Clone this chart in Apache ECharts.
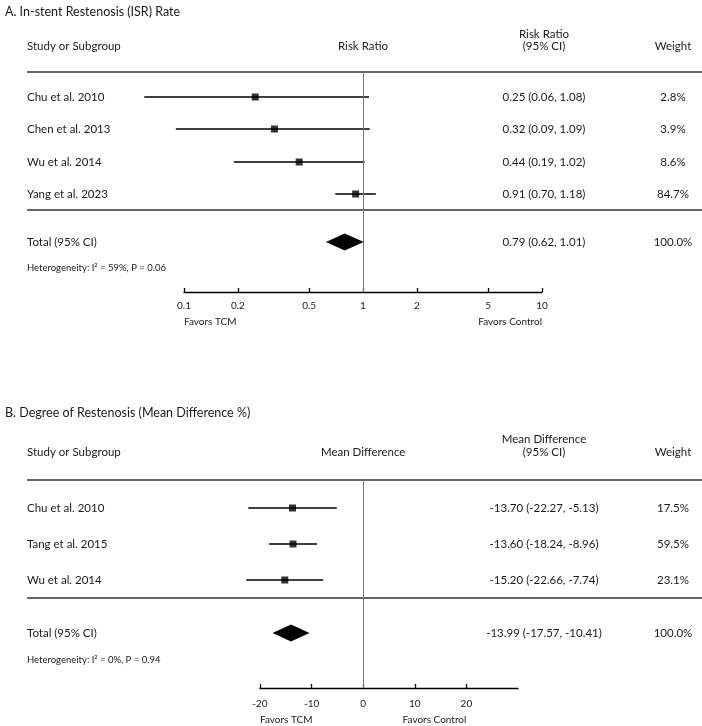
<!DOCTYPE html>
<html>
<head>
<meta charset="utf-8">
<script src="https://cdn.jsdelivr.net/npm/echarts@6/dist/echarts.min.js"></script>
<style>
  html, body { margin: 0; padding: 0; background: #fff; }
  #chart { width: 702px; height: 726px; }
</style>
</head>
<body>
<div id="chart"></div>
<script>
// Panel A: in-stent restenosis rate, risk ratio (log scale)
const studiesA = ['Chu et al. 2010', 'Chen et al. 2013', 'Wu et al. 2014', 'Yang et al. 2023'];
const estA = [0.25, 0.32, 0.44, 0.91];
const lowA = [0.06, 0.09, 0.19, 0.70];
const highA = [1.08, 1.09, 1.02, 1.18];
const weightA = ['2.8%', '3.9%', '8.6%', '84.7%'];
const totalA = [0.79, 0.62, 1.01];
const hetA = 'Heterogeneity: I² = 59%, P = 0.06';
const ticksA = [0.1, 0.2, 0.5, 1, 2, 5, 10];

// Panel B: degree of restenosis, mean difference (%)
const studiesB = ['Chu et al. 2010', 'Tang et al. 2015', 'Wu et al. 2014'];
const estB = [-13.70, -13.60, -15.20];
const lowB = [-22.27, -18.24, -22.66];
const highB = [-5.13, -8.96, -7.74];
const weightB = ['17.5%', '59.5%', '23.1%'];
const totalB = [-13.99, -17.57, -10.41];
const hetB = 'Heterogeneity: I² = 0%, P = 0.94';
const ticksB = [-20, -10, 0, 10, 20];

// row slots (y axis units, inverse) - layout only
const rowsA = [25, 57, 90, 122];
const rowsB = [28, 64, 100];
const layoutA = { max: 220, header: -26, header1: -38, sep: 138, total: 170, het: 196, favors: 30 };
const layoutB = { max: 208, header: -28, header1: -41, sep: 118, total: 153, het: 180, favors: 32 };

const FONT = 'Lato, sans-serif';
const INK = '#1a1a1a';
const chart = echarts.init(document.getElementById('chart'));

function whiskerItem(params, api) {
  const a = api.coord([api.value(0), api.value(2)]);
  const b = api.coord([api.value(1), api.value(2)]);
  return {
    type: 'line',
    shape: { x1: a[0], y1: a[1], x2: b[0], y2: b[1] },
    style: { stroke: '#000', lineWidth: 1.3 }
  };
}

function diamondItem(params, api) {
  const y = api.value(3);
  const c = api.coord([api.value(0), y]);
  const l = api.coord([api.value(1), y]);
  const r = api.coord([api.value(2), y]);
  const h = 8.5;
  return {
    type: 'polygon',
    shape: { points: [[l[0], c[1]], [c[0], c[1] - h], [r[0], c[1]], [c[0], c[1] + h]] },
    style: { fill: '#000' }
  };
}

function xAxisStyle(margin) {
  return {
    axisLine: { show: true, onZero: false, lineStyle: { color: '#000', width: 1.3 } },
    axisTick: { show: true, inside: true, length: 4, lineStyle: { color: '#000', width: 1.3 } },
    axisLabel: { color: INK, fontFamily: FONT, fontSize: 10, margin: margin },
    splitLine: { show: false }
  };
}

const refLine = (x) => ({
  silent: true,
  symbol: 'none',
  label: { show: false },
  lineStyle: { color: '#777', width: 1, type: 'solid' },
  data: [{ xAxis: x }]
});

chart.setOption({
  animation: false,
  backgroundColor: '#fff',
  title: [
    { text: 'A. In-stent Restenosis (ISR) Rate', left: 0, top: 0, textStyle: { fontFamily: FONT, fontSize: 12.5, fontWeight: 'normal', color: INK } },
    { text: 'B. Degree of Restenosis (Mean Difference %)', left: 0, top: 401, textStyle: { fontFamily: FONT, fontSize: 12.5, fontWeight: 'normal', color: INK } }
  ],
  grid: [
    { left: 184, width: 358, top: 72, height: 220 },
    { left: 260, width: 258, top: 480, height: 208 }
  ],
  xAxis: [
    Object.assign(xAxisStyle(9), {
      gridIndex: 0, type: 'log', logBase: 10, min: 0.1, max: 10
    }),
    Object.assign(xAxisStyle(11), {
      gridIndex: 1, type: 'value', min: -20, max: 30, interval: 10
    })
  ],
  yAxis: [
    { gridIndex: 0, type: 'value', inverse: true, min: 0, max: layoutA.max, show: false },
    { gridIndex: 1, type: 'value', inverse: true, min: 0, max: layoutB.max, show: false }
  ],
  series: [
    {
      type: 'custom', xAxisIndex: 0, yAxisIndex: 0,
      renderItem: whiskerItem,
      encode: { x: [0, 1], y: 2 },
      data: studiesA.map((s, i) => [lowA[i], highA[i], rowsA[i]]),
      markLine: refLine(1)
    },
    {
      type: 'scatter', xAxisIndex: 0, yAxisIndex: 0,
      symbol: 'rect', symbolSize: 7, itemStyle: { color: '#000' },
      data: studiesA.map((s, i) => [estA[i], rowsA[i]])
    },
    {
      type: 'custom', xAxisIndex: 0, yAxisIndex: 0,
      renderItem: diamondItem,
      encode: { x: [0, 1, 2], y: 3 },
      data: [[totalA[0], totalA[1], totalA[2], layoutA.total]]
    },
    {
      type: 'custom', xAxisIndex: 1, yAxisIndex: 1,
      renderItem: whiskerItem,
      encode: { x: [0, 1], y: 2 },
      data: studiesB.map((s, i) => [lowB[i], highB[i], rowsB[i]]),
      markLine: refLine(0)
    },
    {
      type: 'scatter', xAxisIndex: 1, yAxisIndex: 1,
      symbol: 'rect', symbolSize: 7, itemStyle: { color: '#000' },
      data: studiesB.map((s, i) => [estB[i], rowsB[i]])
    },
    {
      type: 'custom', xAxisIndex: 1, yAxisIndex: 1,
      renderItem: diamondItem,
      encode: { x: [0, 1, 2], y: 3 },
      data: [[totalB[0], totalB[1], totalB[2], layoutB.total]]
    }
  ]
});

// custom tick positions
chart.setOption({
  xAxis: [
    { axisTick: { customValues: ticksA }, axisLabel: { customValues: ticksA, formatter: (v) => String(+v.toPrecision(3)) } },
    { axisTick: { customValues: ticksB }, axisLabel: { customValues: ticksB } }
  ]
});

// table text and rules
const NAME_X = 27, CI_X = 544, W_X = 673, RULE_END = 702;
const fmt = (n) => n.toFixed(2);

function txt(text, x, y, align, size) {
  return {
    type: 'text', silent: true,
    style: { text, x, y, align: align || 'left', verticalAlign: 'middle', font: (size || 11.5) + 'px ' + FONT, fill: INK }
  };
}
function rule(y) {
  return { type: 'line', silent: true, shape: { x1: NAME_X, y1: y, x2: RULE_END, y2: y }, style: { stroke: '#333', lineWidth: 1.6 } };
}

function panelGraphics(grid, lay, rows, studies, est, low, high, weight, total, het, midHeader, ciHeader, refX, ticks) {
  const py = (v) => chart.convertToPixel({ gridIndex: grid }, [refX, v])[1];
  const px = (v) => chart.convertToPixel({ gridIndex: grid }, [v, 0])[0];
  const out = [];
  out.push(txt('Study or Subgroup', NAME_X, py(lay.header)));
  out.push(txt(midHeader, px(refX), py(lay.header), 'center'));
  out.push(txt(ciHeader, CI_X, py(lay.header1), 'center'));
  out.push(txt('(95% CI)', CI_X, py(lay.header), 'center'));
  out.push(txt('Weight', W_X, py(lay.header), 'center'));
  out.push(rule(py(0)));
  studies.forEach((s, i) => {
    const y = py(rows[i]);
    out.push(txt(s, NAME_X, y));
    out.push(txt(fmt(est[i]) + ' (' + fmt(low[i]) + ', ' + fmt(high[i]) + ')', CI_X, y, 'center'));
    out.push(txt(weight[i], W_X, y, 'center'));
  });
  out.push(rule(py(lay.sep)));
  const ty = py(lay.total);
  out.push(txt('Total (95% CI)', NAME_X, ty));
  out.push(txt(fmt(total[0]) + ' (' + fmt(total[1]) + ', ' + fmt(total[2]) + ')', CI_X, ty, 'center'));
  out.push(txt('100.0%', W_X, ty, 'center'));
  out.push(txt(het, NAME_X, py(lay.het), 'left', 9.5));
  const fy = py(lay.max) + lay.favors;
  out.push(txt('Favors TCM', px(ticks[0]), fy, 'left', 10));
  out.push(txt('Favors Control', px(ticks[ticks.length - 1]), fy, 'right', 10));
  return out;
}

chart.setOption({
  graphic: [].concat(
    panelGraphics(0, layoutA, rowsA, studiesA, estA, lowA, highA, weightA, totalA, hetA, 'Risk Ratio', 'Risk Ratio', 1, ticksA),
    panelGraphics(1, layoutB, rowsB, studiesB, estB, lowB, highB, weightB, totalB, hetB, 'Mean Difference', 'Mean Difference', 0, ticksB)
  )
});
</script>
</body>
</html>
